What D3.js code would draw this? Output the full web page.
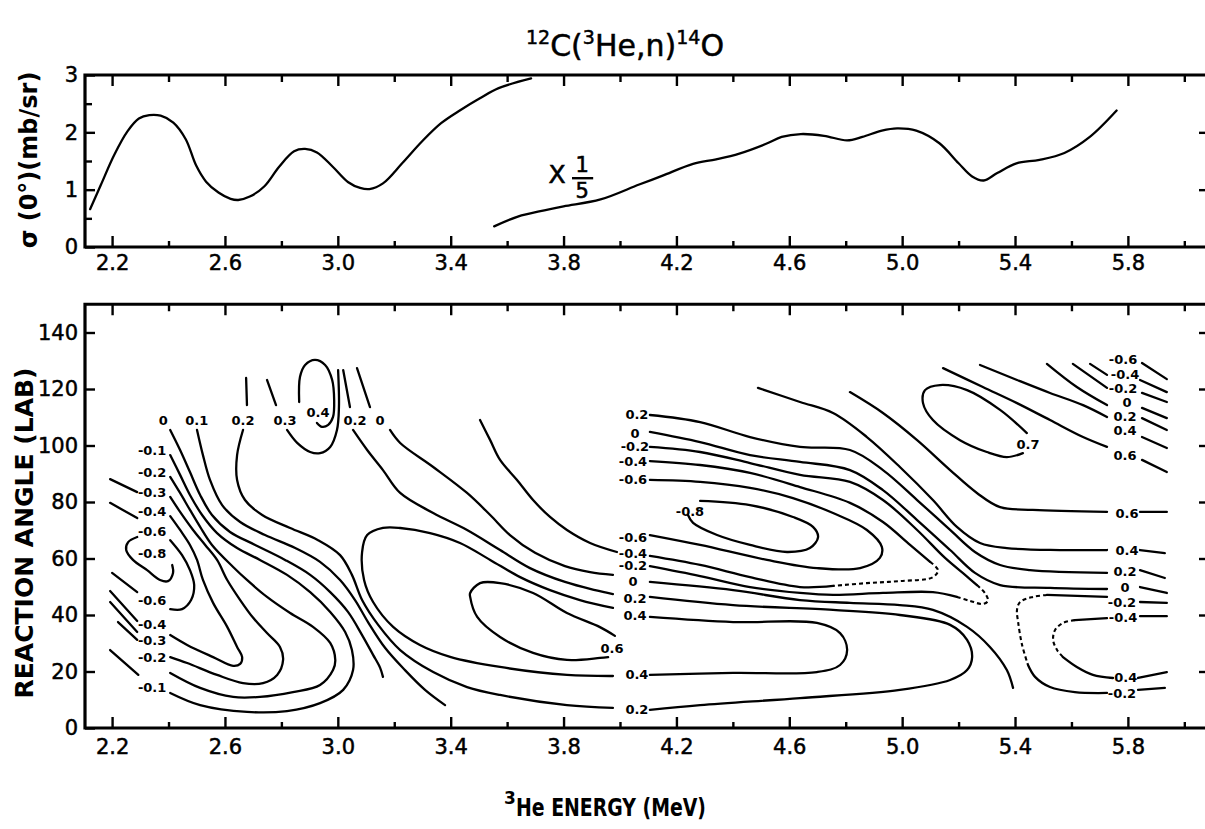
<!DOCTYPE html>
<html><head><meta charset="utf-8">
<script src="https://cdn.jsdelivr.net/npm/d3@7/dist/d3.min.js"></script>
<style>body{margin:0;background:#fff}</style>
</head><body>
<svg id="c" width="1205" height="829"></svg>
<script>
// ---------- axis data ----------
const energyMajor = [2.2,2.6,3.0,3.4,3.8,4.2,4.6,5.0,5.4,5.8];
const energyMinor = [2.4,2.8,3.2,3.6,4.0,4.4,4.8,5.2,5.6,6.0];
const sigmaMajor = [0,1,2,3];
const sigmaMinor = [0.5,1.5,2.5];
const angleMajor = [0,20,40,60,80,100,120,140];

// ---------- top panel: sigma(0 deg) vs energy ----------
const sigmaLow = [[2.122,0.66],[2.160,1.08],[2.207,1.60],[2.255,2.02],[2.295,2.24],[2.332,2.30],[2.372,2.29],[2.417,2.17],[2.461,1.88],[2.498,1.42],[2.533,1.14],[2.577,0.95],[2.620,0.84],[2.647,0.82],[2.688,0.88],[2.740,1.06],[2.792,1.40],[2.845,1.67],[2.884,1.71],[2.926,1.65],[2.982,1.40],[3.037,1.13],[3.079,1.03],[3.112,1.01],[3.160,1.11],[3.228,1.46],[3.298,1.84],[3.366,2.16],[3.435,2.39],[3.502,2.59],[3.57,2.77],[3.685,2.94]];
const sigmaHigh = [[3.554,0.36],[3.638,0.53],[3.732,0.64],[3.80,0.71],[3.931,0.83],[4.068,1.09],[4.149,1.24],[4.259,1.45],[4.341,1.53],[4.423,1.63],[4.518,1.80],[4.573,1.92],[4.641,1.97],[4.723,1.94],[4.805,1.86],[4.859,1.92],[4.928,2.03],[4.982,2.07],[5.05,2.03],[5.132,1.81],[5.20,1.46],[5.248,1.23],[5.289,1.16],[5.337,1.29],[5.405,1.46],[5.487,1.52],[5.575,1.64],[5.665,1.92],[5.76,2.38]];

// ---------- bottom panel: contour lines [energy, angle] ----------
const cM08a = [[2.289,67.6],[2.257,65.8],[2.250,63.0],[2.274,59.5],[2.324,55.9],[2.370,52.4],[2.398,52.0],[2.416,54.9],[2.413,57.7]];
const cM06a = [[2.406,66.5],[2.448,61.2],[2.476,55.9],[2.491,50.6],[2.480,45.3],[2.448,42.1],[2.406,42.1]];
const cM06b = [[2.289,48.1],[2.200,54.9]];
const cM04a = [[2.406,75.0],[2.441,70.1],[2.476,64.8],[2.501,59.5],[2.522,52.4],[2.558,44.3],[2.608,35.8],[2.643,28.7],[2.661,25.1],[2.654,22.7],[2.629,22.0],[2.558,25.1],[2.466,29.4],[2.406,32.9]];
const cM04b = [[2.193,79.7],[2.289,74.3]];
const cM04c = [[2.193,48.5],[2.289,37.9]];
const cM03a = [[2.406,81.8],[2.441,76.5],[2.487,70.1],[2.530,64.8],[2.572,59.5],[2.608,52.4],[2.654,45.3],[2.700,39.0],[2.749,33.6],[2.795,28.7],[2.806,24.1],[2.785,18.8],[2.735,15.9],[2.664,15.9],[2.572,18.8],[2.466,23.0],[2.406,25.1]];
const cM03b = [[2.193,88.1],[2.289,83.5]];
const cM03c = [[2.193,44.6],[2.289,34.0]];
const cM02a = [[2.406,88.9],[2.441,83.2],[2.476,77.2],[2.512,71.2],[2.554,64.8],[2.629,57.0],[2.678,52.4],[2.749,46.4],[2.831,40.7],[2.912,35.8],[2.973,30.1],[2.991,24.1],[2.983,20.5],[2.937,15.2],[2.841,12.7],[2.724,11.0],[2.629,11.0],[2.512,14.2],[2.406,19.5]];
const cM02b = [[2.221,37.5],[2.289,31.2]];
const cM01a = [[2.406,96.6],[2.441,89.6],[2.476,82.5],[2.519,75.4],[2.572,69.0],[2.643,63.7],[2.724,59.5],[2.820,54.2],[2.902,48.1],[2.973,41.1],[3.026,34.0],[3.050,27.6],[3.054,20.5],[3.019,13.5],[2.937,8.8],[2.820,6.0],[2.678,5.7],[2.512,8.1],[2.406,12.4]];
const cM01b = [[2.193,27.6],[2.293,18.8]];
const c0a = [[2.406,105.5],[2.441,98.4],[2.476,90.6],[2.512,82.5],[2.554,75.4],[2.618,69.4],[2.707,64.8],[2.813,59.5],[2.902,54.2],[2.973,48.1],[3.036,41.1],[3.086,32.9],[3.125,25.9],[3.150,21.3],[3.160,18.1]];
const c01a = [[2.501,105.5],[2.522,96.6],[2.547,87.8],[2.590,78.9],[2.654,72.9],[2.742,68.3],[2.849,63.7],[2.937,58.8],[3.008,52.4],[3.061,45.3],[3.107,37.5],[3.168,28.3],[3.238,20.5],[3.309,13.5],[3.380,8.1]];
const c02a = [[2.664,105.5],[2.643,96.6],[2.643,87.8],[2.671,80.7],[2.732,75.4],[2.831,70.8],[2.930,66.5],[3.008,61.2],[3.050,54.2],[3.086,45.3],[3.143,36.5],[3.221,27.6],[3.338,19.8],[3.458,14.5],[3.575,11.7],[3.812,8.1],[3.975,7.1]];
const c02top = [[2.675,123.9],[2.678,114.3]];
const c03top = [[2.749,123.2],[2.781,114.3]];
const c04top = [[2.863,115.4],[2.866,124.3],[2.884,128.5],[2.919,130.3],[2.955,128.5],[2.980,123.2],[2.987,116.1],[2.983,110.1],[2.966,107.3],[2.944,106.6],[2.926,108.0]];
const c03a = [[2.820,105.5],[2.856,100.9],[2.902,97.7],[2.937,97.3],[2.973,99.5],[2.997,105.5],[3.004,113.6],[3.001,126.7]];
const c02topR = [[3.019,126.7],[3.043,113.6]];
const c0topR = [[3.068,127.4],[3.114,113.6]];
const c02b = [[3.054,105.5],[3.104,98.4],[3.160,91.3],[3.221,83.2],[3.338,76.1],[3.458,70.1],[3.575,63.0],[3.681,56.6],[3.805,51.7],[3.912,48.8],[3.975,47.4]];
const c0b = [[3.185,105.5],[3.221,100.9],[3.338,92.4],[3.458,83.2],[3.540,75.4],[3.610,68.3],[3.699,62.0],[3.805,57.3],[3.894,55.2],[3.975,54.2]];
const cM04L = [[3.504,109.0],[3.540,101.9],[3.575,94.9],[3.635,87.8],[3.692,80.7],[3.752,74.7],[3.812,70.1],[3.894,65.5],[3.989,62.3]];
const c04a = [[3.975,42.5],[3.858,45.3],[3.752,48.8],[3.646,53.4],[3.540,59.5],[3.433,65.5],[3.327,69.0],[3.221,70.8],[3.160,70.8],[3.104,68.3],[3.086,62.3],[3.093,52.4],[3.125,44.6],[3.196,35.8],[3.291,29.4],[3.398,25.2],[3.575,21.6],[3.812,18.8],[3.975,18.4]];
const c04b = [[4.106,39.3],[4.401,37.5],[4.698,37.2],[4.780,33.6],[4.805,27.6],[4.780,22.3],[4.698,19.8],[4.401,19.5],[4.106,18.8]];
const c06a = [[3.982,32.6],[3.929,35.7],[3.812,40.7],[3.692,47.8],[3.575,51.3],[3.504,51.3],[3.469,47.8],[3.469,46.4],[3.494,39.3],[3.575,32.2],[3.692,26.6],[3.812,24.1],[3.929,24.8],[3.958,25.1]];
const c02c = [[4.106,46.4],[4.401,43.5],[4.755,41.8],[4.992,40.0],[5.170,36.5],[5.230,31.2],[5.248,25.1],[5.230,20.5],[5.170,17.0],[4.992,13.5],[4.638,10.6],[4.284,8.1],[4.106,6.4]];
const c0c = [[4.106,51.7],[4.401,48.8],[4.638,45.3],[4.815,44.3],[4.992,43.5],[5.109,41.8],[5.230,35.8],[5.311,28.7],[5.371,20.5],[5.393,14.2]];
const cM02m1 = [[4.106,99.5],[4.284,97.7],[4.461,93.8],[4.638,89.6],[4.815,87.1],[4.932,80.7],[5.053,70.1],[5.152,60.2],[5.223,54.2],[5.265,50.6]];
const cM02mD = [[5.265,50.6],[5.293,47.8],[5.304,45.0],[5.286,43.9],[5.240,45.0],[5.194,46.4]];
const cM02m2 = [[5.194,46.4],[5.109,48.1],[4.932,47.8],[4.755,47.1],[4.638,47.8],[4.461,49.9],[4.284,53.8],[4.106,57.3]];
const cM04m1 = [[4.106,94.5],[4.284,93.1],[4.461,90.3],[4.638,85.3],[4.815,79.7],[4.932,72.9],[5.028,64.8],[5.099,58.8]];
const cM04mD = [[5.099,58.8],[5.127,55.9],[5.109,53.4],[4.992,52.0],[4.875,51.3],[4.755,50.3]];
const cM04m2 = [[4.755,50.3],[4.638,49.9],[4.461,53.4],[4.284,57.7],[4.106,60.9]];
const cM06m = [[4.106,87.8],[4.284,87.1],[4.461,85.0],[4.613,81.4],[4.755,76.1],[4.875,70.1],[4.928,64.1],[4.921,60.2],[4.851,56.6],[4.698,56.6],[4.521,59.5],[4.284,64.8],[4.106,68.3]];
const cM08m = [[4.284,80.4],[4.461,78.9],[4.613,74.7],[4.684,71.2],[4.702,67.6],[4.673,63.7],[4.592,62.3],[4.461,64.8],[4.344,68.3],[4.259,72.6],[4.241,75.4]];
const c02R = [[4.106,110.8],[4.284,108.3],[4.461,103.0],[4.638,99.5],[4.815,98.4],[4.932,91.3],[5.053,80.7],[5.170,70.1],[5.258,62.3],[5.347,57.7],[5.453,55.9],[5.726,54.9]];
const c0R = [[4.106,104.8],[4.284,101.2],[4.461,96.6],[4.638,94.2],[4.815,91.3],[4.932,84.2],[5.053,73.6],[5.170,63.0],[5.258,54.9],[5.347,50.6],[5.524,49.6],[5.726,49.2]];
const c04R = [[4.489,120.4],[4.638,115.4],[4.755,111.5],[4.875,103.0],[4.992,92.4],[5.109,80.7],[5.194,71.2],[5.276,65.5],[5.371,63.7],[5.559,63.0],[5.726,63.0]];
const c06R = [[4.815,118.9],[4.932,111.5],[5.053,101.9],[5.170,91.3],[5.265,83.2],[5.347,78.2],[5.463,77.2],[5.726,76.5]];
const c07 = [[5.442,104.4],[5.347,112.6],[5.230,119.6],[5.134,121.4],[5.081,119.6],[5.074,115.0],[5.109,109.0],[5.205,101.9],[5.300,97.7],[5.371,95.9],[5.428,97.3]];
const c06RU = [[5.145,127.4],[5.286,120.7],[5.407,115.0],[5.524,109.0],[5.641,103.0],[5.726,99.5]];
const c04RU = [[5.276,128.5],[5.407,123.2],[5.524,118.6],[5.641,114.3],[5.726,110.1]];
const c02RU = [[5.513,128.9],[5.619,120.7],[5.726,114.3]];
const c0RU = [[5.605,128.9],[5.726,120.4]];
const cM02RU = [[5.666,128.9],[5.726,125.0]];
const cM02R1 = [[5.726,46.4],[5.513,47.1]];
const cM02RD = [[5.513,47.1],[5.463,46.4],[5.418,44.6],[5.407,41.8],[5.411,37.5],[5.425,29.4],[5.446,22.3]];
const cM02R2 = [[5.446,22.3],[5.471,18.1],[5.524,14.5],[5.612,12.7],[5.726,12.4]];
const cM04R1 = [[5.726,38.9],[5.612,38.2]];
const cM04RD = [[5.612,38.2],[5.570,37.2],[5.542,34.7],[5.535,31.2],[5.549,27.6],[5.570,25.1]];
const cM04R2 = [[5.570,25.1],[5.619,21.6],[5.676,18.8],[5.747,17.7]];
const rightStubs = [
 [[5.850,129.2],[5.938,123.5]],[[5.843,123.2],[5.938,118.9]],[[5.850,118.6],[5.938,115.4]],
 [[5.850,113.3],[5.938,109.7]],[[5.850,109.7],[5.938,105.5]],[[5.850,103.0],[5.938,99.1]],
 [[5.850,94.9],[5.938,90.6]],[[5.843,76.5],[5.938,76.5]],[[5.843,63.0],[5.931,61.9]],
 [[5.843,55.9],[5.931,53.1]],[[5.843,49.9],[5.938,47.8]],[[5.843,44.6],[5.938,44.3]],
 [[5.843,39.6],[5.938,39.6]],[[5.836,17.7],[5.938,19.8]],[[5.836,13.5],[5.931,14.2]]];

const solidLines = [cM08a,cM06a,cM06b,cM04a,cM04b,cM04c,cM03a,cM03b,cM03c,cM02a,cM02b,cM01a,cM01b,
 c0a,c01a,c02a,c02top,c03top,c04top,c03a,c02topR,c0topR,c02b,c0b,cM04L,c04a,c04b,c06a,c02c,c0c,
 cM02m1,cM02m2,cM04m1,cM04m2,cM06m,cM08m,c02R,c0R,c04R,c06R,c07,c06RU,c04RU,c02RU,c0RU,cM02RU,
 cM02R1,cM02R2,cM04R1,cM04R2].concat(rightStubs);
const dashedLines = [cM02mD,cM04mD,cM02RD,cM04RD];

// contour labels [text, energy, angle]
const contourLabels = [
 ["0",2.381,109.0],["0.1",2.50,109.0],["0.2",2.664,109.0],["0.3",2.813,109.0],["0.4",2.930,111.8],["0.2",3.061,109.0],["0",3.150,109.0],
 ["-0.1",2.342,98.4],["-0.2",2.342,90.6],["-0.3",2.342,83.5],["-0.4",2.342,76.5],["-0.6",2.342,69.4],["-0.8",2.342,61.9],
 ["-0.6",2.342,45.3],["-0.4",2.342,36.6],["-0.3",2.342,31.1],["-0.2",2.342,24.8],["-0.1",2.342,14.2],
 ["0.2",4.060,110.8],["0",4.053,104.4],["-0.2",4.053,99.5],["-0.4",4.046,94.5],["-0.6",4.046,88.1],["-0.8",4.248,76.5],
 ["-0.6",4.046,67.6],["-0.4",4.046,61.9],["-0.2",4.046,57.4],["0",4.046,52.0],["0.2",4.053,46.0],["0.4",4.053,40.0],
 ["0.6",3.972,28.3],["0.4",4.060,18.8],["0.2",4.060,6.4],["0.7",5.446,100.2],
 ["-0.6",5.783,130.6],["-0.4",5.790,125.3],["-0.2",5.783,120.3],["0",5.797,115.3],["0.2",5.790,110.4],["0.4",5.790,105.4],["0.6",5.790,96.6],
 ["0.6",5.797,76.1],["0.4",5.797,62.7],["0.2",5.790,55.3],["0",5.790,49.8],["-0.2",5.779,44.5],["-0.4",5.783,39.0],["-0.4",5.783,17.8],["-0.2",5.779,12.1]];

// ---------- drawing ----------
const svg = d3.select("#c");
svg.append("rect").attr("width",1205).attr("height",829).attr("fill","#fff");
const FONT = "DejaVu Sans, Liberation Sans, sans-serif";

const x = d3.scaleLinear().domain([2.104, 6.091]).range([85, 1210]);
const yTop = d3.scaleLinear().domain([0,3]).range([247,75]);
const yBot = d3.scaleLinear().domain([0,150]).range([728,304.25]);

function frame(y0, y1){
  svg.append("path").attr("d",`M1210,${y1}H85V${y0}H1210`).attr("fill","none")
    .attr("stroke","#000").attr("stroke-width",3.2).attr("stroke-linejoin","miter");
}
function styleAxis(g, fs){
  g.select(".domain").remove();
  g.selectAll(".tick line").attr("stroke","#000").attr("stroke-width",2.4);
  g.selectAll(".tick text").attr("font-family",FONT).attr("font-size",fs).attr("fill","#000")
    .attr("stroke","#000").attr("stroke-width",0.5);
}
function panelAxes(y, y0, y1, yMajor, yMinor, xPad){
  frame(y0,y1);
  styleAxis(svg.append("g").attr("transform",`translate(0,${y0})`)
    .call(d3.axisBottom(x).tickValues(energyMajor).tickSizeInner(-11).tickSizeOuter(0).tickPadding(xPad).tickFormat(d3.format(".1f"))),21);
  styleAxis(svg.append("g").attr("transform",`translate(0,${y0})`)
    .call(d3.axisBottom(x).tickValues(energyMinor).tickSizeInner(-6).tickSizeOuter(0).tickFormat("")),21);
  styleAxis(svg.append("g").attr("transform",`translate(0,${y1})`)
    .call(d3.axisTop(x).tickValues(energyMajor).tickSizeInner(-11).tickSizeOuter(0).tickFormat("")),21);
  styleAxis(svg.append("g").attr("transform",`translate(0,${y1})`)
    .call(d3.axisTop(x).tickValues(energyMinor).tickSizeInner(-7).tickSizeOuter(0).tickFormat("")),21);
  styleAxis(svg.append("g").attr("transform",`translate(85,0)`)
    .call(d3.axisLeft(y).tickValues(yMajor).tickSizeInner(-10).tickSizeOuter(0).tickPadding(7).tickFormat(d3.format("d"))),21);
  if (yMinor) styleAxis(svg.append("g").attr("transform",`translate(85,0)`)
    .call(d3.axisLeft(y).tickValues(yMinor).tickSizeInner(-7).tickSizeOuter(0).tickFormat("")),21);
  styleAxis(svg.append("g").attr("transform",`translate(1210,0)`)
    .call(d3.axisRight(y).tickValues(yMajor.filter(v=>y(v)>y1+2 && y(v)<y0-2)).tickSizeInner(-11).tickSizeOuter(0).tickFormat("")),21);
}
panelAxes(yTop, 247, 75, sigmaMajor, sigmaMinor, 8);
panelAxes(yBot, 728, 304.25, angleMajor, null, 11);

// top curves
const lineTop = d3.line().x(d=>x(d[0])).y(d=>yTop(d[1])).curve(d3.curveCatmullRom.alpha(0.5));
[sigmaLow, sigmaHigh].forEach(s=>svg.append("path").datum(s).attr("d",lineTop)
  .attr("fill","none").attr("stroke","#000").attr("stroke-width",2.3).attr("stroke-linecap","round"));

// "x 1/5" annotation
svg.append("text").attr("x",x(3.777)).attr("y",yTop(1.256)).attr("text-anchor","middle").attr("dominant-baseline","central")
  .attr("font-family",FONT).attr("font-size",25).attr("stroke","#000").attr("stroke-width",0.6).text("X");
svg.append("text").attr("x",x(3.866)).attr("y",yTop(1.43)).attr("text-anchor","middle").attr("dominant-baseline","central")
  .attr("font-family",FONT).attr("font-size",21).attr("stroke","#000").attr("stroke-width",0.6).text("1");
svg.append("text").attr("x",x(3.866)).attr("y",yTop(0.97)).attr("text-anchor","middle").attr("dominant-baseline","central")
  .attr("font-family",FONT).attr("font-size",21).attr("stroke","#000").attr("stroke-width",0.6).text("5");
svg.append("line").attr("x1",x(3.83)).attr("x2",x(3.905)).attr("y1",yTop(1.2)).attr("y2",yTop(1.2))
  .attr("stroke","#000").attr("stroke-width",2.4);

// contour lines
const lineBot = d3.line().x(d=>x(d[0])).y(d=>yBot(d[1])).curve(d3.curveCatmullRom.alpha(0.5));
const gC = svg.append("g");
solidLines.forEach(s=>gC.append("path").datum(s).attr("d",lineBot).attr("fill","none")
  .attr("stroke","#000").attr("stroke-width",2.3).attr("stroke-linecap","round"));
dashedLines.forEach(s=>gC.append("path").datum(s).attr("d",lineBot).attr("fill","none")
  .attr("stroke","#000").attr("stroke-width",2.1).attr("stroke-dasharray","4,3"));

// contour labels
svg.append("g").selectAll("text").data(contourLabels).join("text")
  .attr("x",d=>x(d[1])).attr("y",d=>yBot(d[2])).attr("text-anchor","middle").attr("dominant-baseline","central")
  .attr("font-family",FONT).attr("font-size",13).attr("font-weight","bold").text(d=>d[0]);

// titles
const t = svg.append("text").attr("x",625).attr("y",56).attr("text-anchor","middle").attr("font-family",FONT).attr("font-size",30)
  .attr("stroke","#000").attr("stroke-width",0.5);
t.append("tspan").attr("font-size",19).attr("dy",-12).text("12");
t.append("tspan").attr("dy",12).text("C(");
t.append("tspan").attr("font-size",19).attr("dy",-12).text("3");
t.append("tspan").attr("dy",12).text("He,n)");
t.append("tspan").attr("font-size",19).attr("dy",-12).text("14");
t.append("tspan").attr("dy",12).text("O");

svg.append("text").attr("transform","translate(37,160) rotate(-90)").attr("text-anchor","middle")
  .attr("font-family",FONT).attr("font-size",24).attr("font-weight","bold").text("σ (0°)(mb/sr)");
svg.append("text").attr("transform","translate(33,533) rotate(-90)").attr("text-anchor","middle")
  .attr("font-family",FONT).attr("font-size",25).attr("font-weight","bold").text("REACTION ANGLE (LAB)");
svg.append("text").attr("x",504).attr("y",804).attr("font-family",FONT).attr("font-size",17).attr("font-weight","bold").text("3");
svg.append("text").attr("x",516).attr("y",816).attr("font-family",FONT).attr("font-size",25).attr("font-weight","bold")
  .attr("textLength",190).attr("lengthAdjust","spacingAndGlyphs").text("He ENERGY (MeV)");
</script>
</body></html>
